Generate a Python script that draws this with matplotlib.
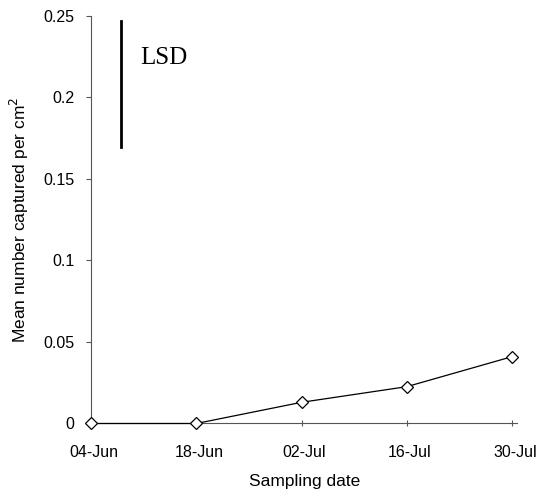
import matplotlib
matplotlib.use("Agg")
import matplotlib.pyplot as plt
import matplotlib.transforms as mtransforms

dates = ["04-Jun", "18-Jun", "02-Jul", "16-Jul", "30-Jul"]
values = [0.0, 0.0, 0.013, 0.0226, 0.041]
yticks = [0, 0.05, 0.1, 0.15, 0.2, 0.25]
ytick_labels = ["0", "0.05", "0.1", "0.15", "0.2", "0.25"]
lsd_x = 0.282
lsd_range = [0.1698, 0.2471]

plt.rcParams['font.family'] = ['Liberation Sans', 'DejaVu Sans']
fig = plt.figure(figsize=(5.41, 4.98), dpi=100)
ax = fig.add_axes([0.1682, 0.1496, 0.788, 0.8183])

x = list(range(len(dates)))
ax.plot(x, values, color='black', lw=0.9, marker='D', markersize=6.5,
        markerfacecolor='white', markeredgecolor='black', markeredgewidth=0.9,
        clip_on=False, zorder=3)
ax.plot([lsd_x, lsd_x], lsd_range, color='black', lw=2)
ax.text(0.472, 0.2244, "LSD", family=['Liberation Serif'], fontsize=18,
        va='center', ha='left')

ax.set_xlim(0, 4.05)
ax.set_ylim(0, 0.25)
ax.set_xticks(x)
ax.set_xticklabels(dates, fontsize=11.5)
ax.set_yticks(yticks)
ax.set_yticklabels(ytick_labels, fontsize=11.5)
for s in ['top', 'right']:
    ax.spines[s].set_visible(False)
for s in ['left', 'bottom']:
    ax.spines[s].set_color('#555555')
    ax.spines[s].set_linewidth(0.8)
ax.tick_params(axis='y', direction='out', length=3.6, color='#555555', pad=8.5)
ax.tick_params(axis='x', direction='inout', length=5, color='#555555', pad=13)

offset = mtransforms.ScaledTranslation(3 / 100, 0, fig.dpi_scale_trans)
for lab in ax.get_xticklabels():
    lab.set_transform(lab.get_transform() + offset)

ax.set_xlabel("Sampling date", fontsize=12.5, labelpad=10)
ax.set_ylabel("Mean number captured per cm$^2$", fontsize=12.5, labelpad=9)

fig.savefig("out.png", dpi=100)
